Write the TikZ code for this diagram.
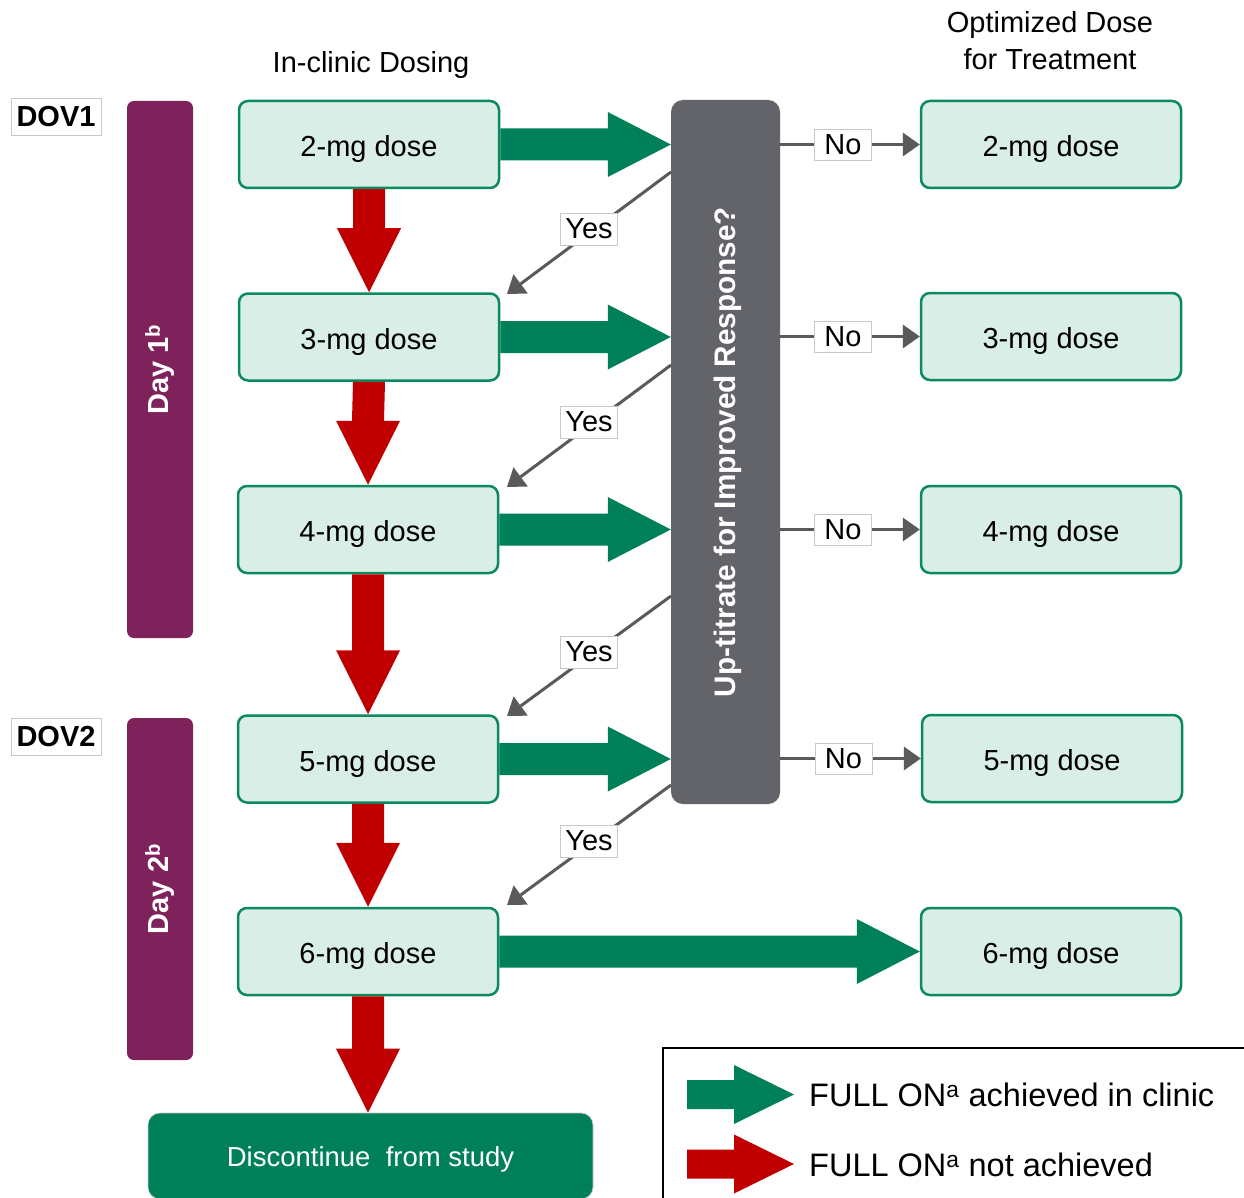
\documentclass[tikz,border=0pt]{standalone}
\usepackage{fontspec}
\setmainfont{Liberation Sans}
\usetikzlibrary{arrows.meta,calc}
\definecolor{fgreen}{HTML}{008058}
\definecolor{mint}{HTML}{D9EEE6}
\definecolor{bgreen}{HTML}{0B8A5E}
\definecolor{fred}{HTML}{C00000}
\definecolor{purp}{HTML}{7F215B}
\definecolor{ggray}{HTML}{626469}
\definecolor{cgray}{HTML}{5A5A5A}
\definecolor{lgray}{HTML}{C8C8C8}
\newcommand\fsz[1]{\fontsize{#1pt}{#1pt}\selectfont}
% horizontal fat arrow: colour, start, end, half shaft, half head, head length
\newcommand\hfat[6]{\fill[#1] ($(#2)+(0,-#4)$) -- ($(#3)+(-#6,-#4)$) -- ($(#3)+(-#6,-#5)$)
  -- (#3) -- ($(#3)+(-#6,#5)$) -- ($(#3)+(-#6,#4)$) -- ($(#2)+(0,#4)$) -- cycle;}
% vertical (downward) fat arrow
\newcommand\vfat[6]{\fill[#1] ($(#2)+(-#4,0)$) -- ($(#3)+(-#4,-#6)$) -- ($(#3)+(-#5,-#6)$)
  -- (#3) -- ($(#3)+(#5,-#6)$) -- ($(#3)+(#4,-#6)$) -- ($(#2)+(#4,0)$) -- cycle;}
\begin{document}
\begin{tikzpicture}[x=1pt,y=-1pt,
  dosebox/.style={draw=bgreen, line width=2.5pt, fill=mint, rounded corners=9pt,
    minimum width=260pt, minimum height=87pt, inner sep=0pt, font=\fsz{29},
    text height=24pt, text depth=0pt},
  daybar/.style={fill=purp, rounded corners=7pt, minimum width=66pt, inner sep=0pt},
  daytext/.style={rotate=90, text=white, font=\fsz{29}\bfseries},
  dovlabel/.style={draw=lgray, line width=1pt, fill=white, minimum width=90pt,
    minimum height=37pt, inner sep=0pt, font=\fsz{29}\bfseries},
  conn/.style={draw=cgray, line width=3pt,
    -{Triangle[width=24pt,length=17pt,line width=0pt]}},
  yeslab/.style={fill=white, draw=lgray, line width=0.8pt, inner xsep=5pt,
    inner ysep=0pt, minimum height=32pt, font=\fsz{29}},
  nolab/.style={fill=white, draw=lgray, line width=0.8pt, inner xsep=10pt,
    inner ysep=0pt, minimum height=31pt, font=\fsz{29}},
  title/.style={font=\fsz{29}, align=center, inner sep=0pt}
]
\clip (0,0) rectangle (1244,1198);
\fill[white] (0,0) rectangle (1244,1198);

% titles
\node[title] (t1) at (371,65) {In-clinic Dosing};
\node[title] (t2a) at (1050,25) {Optimized Dose};
\node[title] (t2b) at (1050,59) {for Treatment};

% DOV labels
\node[dovlabel] (dov1) at (56,117) {DOV1};
\node[dovlabel] (dov2) at (56,736.5) {DOV2};

% day bars
\node[daybar, minimum height=537pt] (d1) at (160,369.5) {};
\node[daytext] (d1t) at (d1.center) {Day 1\textsuperscript{b}};
\node[daybar, minimum height=342pt] (d2) at (160,889) {};
\node[daytext] (d2t) at (d2.center) {Day 2\textsuperscript{b}};

% left dose boxes
\node[dosebox] (L2) at (369,144.5) {2-mg dose};
\node[dosebox] (L3) at (369,337) {3-mg dose};
\node[dosebox] (L4) at (368,529.5) {4-mg dose};
\node[dosebox] (L5) at (368,759) {5-mg dose};
\node[dosebox] (L6) at (368,951.5) {6-mg dose};

% right dose boxes
\node[dosebox] (R2) at (1051,144.5) {2-mg dose};
\node[dosebox] (R3) at (1051,336.5) {3-mg dose};
\node[dosebox] (R4) at (1051,529.5) {4-mg dose};
\node[dosebox] (R5) at (1052,758.5) {5-mg dose};
\node[dosebox] (R6) at (1051,951.5) {6-mg dose};

% gray decision box
\node[fill=ggray, rounded corners=12pt, minimum width=109pt, minimum height=704pt,
  inner sep=0pt] (G) at (725.5,452) {};
\node[rotate=90, text=white, font=\fsz{29.7}\bfseries] (Gt) at (728,452)
  {Up-titrate for Improved Response?};

% discontinue
\node[fill=fgreen, draw=lgray, line width=0.6pt, rounded corners=12pt,
  minimum width=445pt, minimum height=86pt, inner sep=0pt, text=white,
  font=\fsz{27.5}, text height=20pt, text depth=0pt] (disc) at (370.5,1156)
  {Discontinue\ \ from study};

% green arrows
\hfat{fgreen}{L2.east}{L2.east -| G.west}{16}{32.5}{63}
\hfat{fgreen}{L3.east}{L3.east -| G.west}{16}{32.5}{63}
\hfat{fgreen}{L4.east}{L4.east -| G.west}{16}{32.5}{63}
\hfat{fgreen}{L5.east}{L5.east -| G.west}{16}{32.5}{63}
\hfat{fgreen}{L6.east}{R6.west}{16}{32.5}{63}

% red arrows
\vfat{fred}{L2.south}{L3.north}{16}{32}{64}
\vfat{fred}{L3.south}{L4.north}{16}{32}{64}
\vfat{fred}{L4.south}{L5.north}{16}{32}{64}
\vfat{fred}{L5.south}{L6.north}{16}{32}{64}
\vfat{fred}{L6.south}{L6.south |- disc.north}{16}{32}{64}

% No connectors
\draw[conn] (G.east |- R2.west) -- node[nolab, pos=0.45] (n1) {No} (R2.west);
\draw[conn] (G.east |- R3.west) -- node[nolab, pos=0.45] (n2) {No} (R3.west);
\draw[conn] (G.east |- R4.west) -- node[nolab, pos=0.45] (n3) {No} (R4.west);
\draw[conn] (G.east |- R5.west) -- node[nolab, pos=0.45] (n4) {No} (R5.west);

% Yes connectors
\coordinate (y1s) at (671,172);  \coordinate (y1e) at (507,294);
\coordinate (y2s) at (671,365);  \coordinate (y2e) at (507,487);
\coordinate (y3s) at (671,596);  \coordinate (y3e) at (507,716);
\coordinate (y4s) at (671,785);  \coordinate (y4e) at (507,905);
\draw[conn] (y1s) -- node[yeslab, pos=0.5, yshift=4pt] (ys1) {Yes} (y1e);
\draw[conn] (y2s) -- node[yeslab, pos=0.5, yshift=4pt] (ys2) {Yes} (y2e);
\draw[conn] (y3s) -- node[yeslab, pos=0.5, yshift=4pt] (ys3) {Yes} (y3e);
\draw[conn] (y4s) -- node[yeslab, pos=0.5, yshift=4pt] (ys4) {Yes} (y4e);

% legend
\draw[black, line width=2pt] (663,1048) rectangle (1260,1220);
\coordinate (lg1a) at (687,1094.5); \coordinate (lg1b) at (794,1094.5);
\coordinate (lg2a) at (687,1164);   \coordinate (lg2b) at (794,1164);
\hfat{fgreen}{lg1a}{lg1b}{14.5}{29.5}{60}
\hfat{fred}{lg2a}{lg2b}{14.5}{29.5}{60}
\node[anchor=west, font=\fsz{32.5}, inner sep=0pt] (lt1) at (809,1095)
  {FULL ON\textsuperscript{a} achieved in clinic};
\node[anchor=west, font=\fsz{32.5}, inner sep=0pt] (lt2) at (809,1165)
  {FULL ON\textsuperscript{a} not achieved};
\end{tikzpicture}
\end{document}
